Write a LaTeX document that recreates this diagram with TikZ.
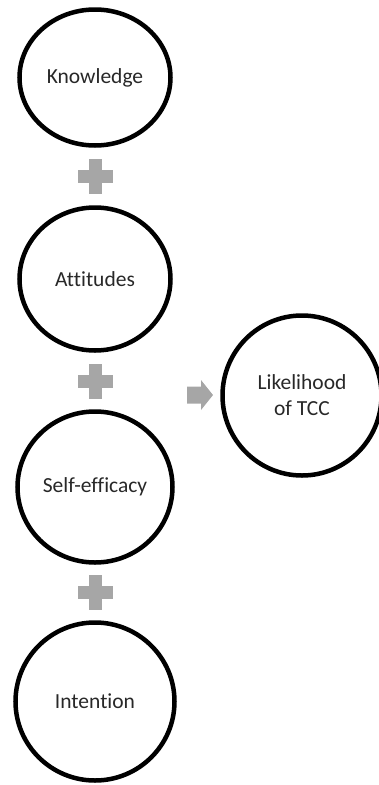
\documentclass[tikz,border=0pt]{standalone}
\usepackage{fontspec}
\setmainfont{Carlito}[Ligatures={NoCommon}]
\usetikzlibrary{positioning,calc,shapes.geometric}
\definecolor{plusgray}{RGB}{166,166,166}
\definecolor{inktext}{RGB}{40,40,40}

\begin{document}
\begin{tikzpicture}[x=1pt, y=-1pt, font=\fontsize{21.5}{26}\selectfont,
  bubble/.style={ellipse, draw, line width=4.5pt, text=inktext, align=center, inner sep=0pt},
  plusmark/.pic={
    \fill[plusgray] (-6.5,-17.5) rectangle (6.5,17.5);
    \fill[plusgray] (-17.5,-6.5) rectangle (17.5,6.5);
  }]
\useasboundingbox (0,0) rectangle (379,785);

% the four factors, top to bottom
\node[bubble, minimum width=151pt, minimum height=136pt] (know) at (95,77.5) {Knowledge};
\node[bubble, minimum width=151pt, minimum height=143pt] (att) at (95,279) {Attitudes};
\node[bubble, minimum width=155pt, minimum height=151pt] (selfeff) at (95,487) {Self-efficacy};
\node[bubble, minimum width=159pt, minimum height=158pt] (intent) at (95,701.5) {Intention};

% outcome
\node[bubble, minimum width=159pt, minimum height=160pt] (tcc) at (302,395.5) {Likelihood\\of TCC};

% plus signs between the factors
\pic at ($(know.south)!0.5!(att.north)$) {plusmark};
\pic at ($(att.south)!0.5!(selfeff.north)$) {plusmark};
\pic at ($(selfeff.south)!0.5!(intent.north)$) {plusmark};

% block arrow pointing at the outcome
\coordinate (arr) at (200,395);
\fill[plusgray] (arr) ++(-13,-8.5) -- ++(14,0) -- ++(0,-6.5) -- ++(12,15)
  -- ++(-12,15) -- ++(0,-6.5) -- ++(-14,0) -- cycle;
\end{tikzpicture}
\end{document}
